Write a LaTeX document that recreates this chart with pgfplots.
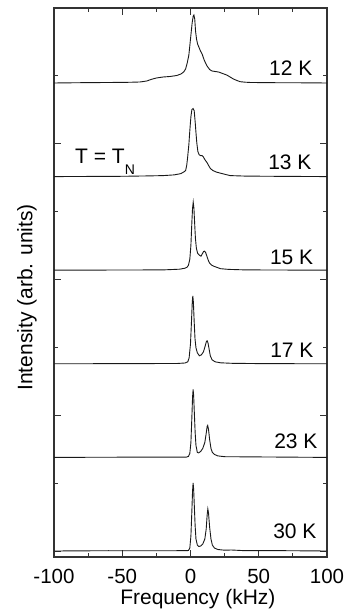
\documentclass[border=0pt]{standalone}
\usepackage{fontspec}
\setmainfont{Liberation Sans}
\usepackage{pgfplots}
\pgfplotsset{compat=1.18}
\begin{document}
\begin{tikzpicture}
\path[use as bounding box] (0,0) rectangle (348pt,612pt);
\begin{axis}[
  at={(54pt,55pt)}, anchor=south west,
  scale only axis, width=273pt, height=549pt,
  xmin=-100, xmax=100, ymin=0, ymax=549,
  xtick={-100,-50,0,50,100}, minor x tick num=1,
  ytick={6,142,278,414,550}, minor ytick={74,210,346,482},
  yticklabels={},
  tick align=inside,
  major tick length=7pt, minor tick length=4pt,
  every tick/.style={line width=0.9pt, color=black!80},
  axis line style={line width=1.2pt, color=black!80},
  /pgf/number format/assume math mode=true,
  xticklabel style={font=\fontsize{20.5}{20.5}\selectfont, anchor=base, yshift=-27pt},
  xlabel={Frequency (kHz)},
  xlabel style={font=\fontsize{21}{21}\selectfont, at={(axis description cs:0.527,-0.0874)}, anchor=base},
  ylabel={Intensity (arb. units)},
  ylabel style={font=\fontsize{21}{21}\selectfont, at={(axis description cs:-0.0989,0.4727)}, anchor=center},
  cycle list={{black!90, solid, line width=0.9pt}},
  every axis plot post/.append style={line width=0.9pt, color=black!90, solid, no markers},
]
% 12 K
\addplot table[y expr=\thisrow{h}+474] {
x h
-100 0
-80 0.3
-60 0.5
-45 0.7
-37 1
-32 2
-29 3.5
-25 5
-20 6
-15 6.5
-10 7.5
-7 9
-5 11
-3.6 14
-2.4 20
-1.2 28
0 44
1.2 60
2 67
2.5 68
3.1 64
3.7 52
4.4 44
5.2 39
6.1 36
7.3 32
8.5 29
10 23
12.1 17
14 13.5
15.7 12
18 11.5
20.5 11
23.5 9.5
26.5 8
29 6
31.4 4
34 2.5
36.4 1.3
40 0.8
44 0.5
60 0.3
80 0.2
100 0
};
% 13 K
\addplot table[y expr=\thisrow{h}+380.4] {
x h
-100 0
-50 0.3
-30 0.7
-20 1
-12 1.7
-7 3
-4.5 5
-3.6 6
-2.8 11
-2.2 18
-1.2 32
-0.5 46
0.3 60
1.0 67
1.9 68
2.7 66
3.4 55
4.0 44
4.6 34
5.4 25
6.3 22
7.3 21
8.5 21
9.3 20
10.5 17
12.1 14
13.3 11
14.6 8
16.5 6
19 4.5
22 3.4
26 2
29 1
40 0.5
60 0.3
100 0
};
% 15 K
\addplot table[y expr=\thisrow{h}+286.8] {
x h
-100 0
-20 0.3
-8 1
-4 2
-2.5 3
-1.5 5
-0.5 11
0.3 25
1 48
1.5 62
2 68
2.5 62
3 48
3.6 32
4.3 22
5.2 17
6.5 15
7.7 14
8.7 16.5
9.6 18.7
10.3 19
11 18
12 14
13 10
14 7
15.5 5
17 4
19 3
22 1.5
28 0.8
40 0.3
100 0
};
% 17 K
\addplot table[y expr=\thisrow{h}+193.2] {
x h
-100 0
-10 0.3
-4 0.8
-2 2
-1 6
0 20
0.8 45
1.3 62
1.7 68
2.1 62
2.7 42
3.3 25
4 16
5 11
6.5 8
8 9
9.5 12
10.8 18
11.7 22.5
12.2 23
12.8 21
13.6 15
14.5 8
15.8 4
18 2
22 1
30 0.5
50 0.2
100 0
};
% 23 K
\addplot table[y expr=\thisrow{h}+99.6] {
x h
-100 0
-30 0.3
-3 0.3
-1.5 1
-0.5 4
0.3 15
1.0 40
1.5 60
1.9 68
2.3 62
2.8 45
3.4 25
4.0 12
5.0 5
6 4.5
7.5 6
9 9
10.5 15
11.5 24
12.2 31
12.6 32
13.2 28
14 18
15 9
16 5
17.5 3
20 1.5
25 0.7
100 0
};
% 30 K
\addplot table[y expr=\thisrow{h}+6] {
x h
-100 0
-60 0.3
-30 0.2
-10 0.3
-3 0.3
-1.5 0.5
-0.5 3
0.3 15
1.0 40
1.5 60
1.9 68
2.3 62
2.8 45
3.4 25
4.0 12
5.0 6
6.0 4.5
7.5 5
9 7
10.5 12
11.5 22
12.2 36
12.7 42
13.2 38
14 24
15 12
16 6
17.5 3
20 1.5
25 0.8
30 1
40 0.3
70 0.3
100 0
};
\node[anchor=base east, font=\fontsize{21}{21}\selectfont] at (axis cs:91.9,481) {12 K};
\node[anchor=base east, font=\fontsize{21}{21}\selectfont] at (axis cs:91.2,387) {13 K};
\node[anchor=base east, font=\fontsize{21}{21}\selectfont] at (axis cs:92.5,292) {15 K};
\node[anchor=base east, font=\fontsize{21}{21}\selectfont] at (axis cs:92.7,199) {17 K};
\node[anchor=base east, font=\fontsize{21}{21}\selectfont] at (axis cs:95.6,108) {23 K};
\node[anchor=base east, font=\fontsize{21}{21}\selectfont] at (axis cs:94.9,18) {30 K};
\node[anchor=base west, inner sep=0pt, font=\fontsize{21}{21}\selectfont] at (axis cs:-84.6,393) {T = T\raisebox{-11pt}{\fontsize{14}{14}\selectfont N}};
\end{axis}
\end{tikzpicture}
\end{document}
